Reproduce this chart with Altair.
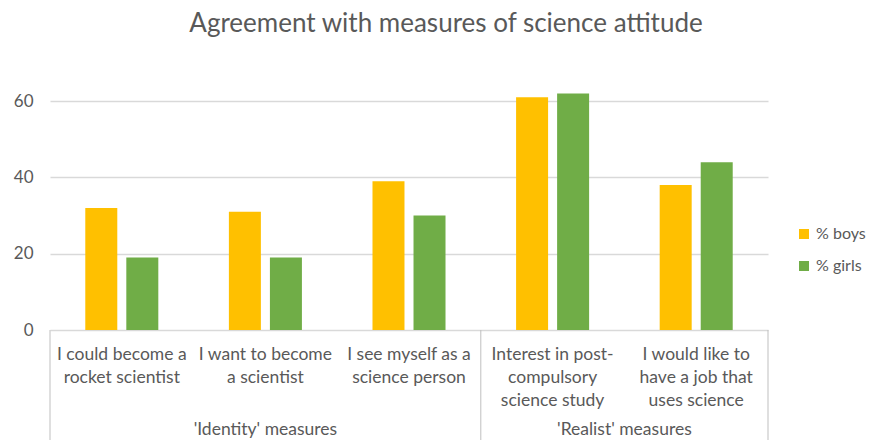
import altair as alt
import pandas as pd

# ---- data ----
categories = [
    "I could become a|rocket scientist",
    "I want to become|a scientist",
    "I see myself as a|science person",
    "Interest in post-|compulsory|science study",
    "I would like to|have a job that|uses science",
]
groups = ["'Identity' measures", "'Identity' measures", "'Identity' measures",
          "'Realist' measures", "'Realist' measures"]
series = ["% boys", "% girls"]
boys = [32, 31, 39, 61, 38]
girls = [19, 19, 30, 62, 44]
y_ticks = [0, 20, 40, 60]
colors = ["#FFC000", "#70AD47"]

rows = []
for c, g, b, gi in zip(categories, groups, boys, girls):
    rows.append({"category": c, "group": g, "series": series[0], "value": b})
    rows.append({"category": c, "group": g, "series": series[1], "value": gi})
df = pd.DataFrame(rows)

# group structure -> separators and group-label anchors
group_names = list(dict.fromkeys(groups))
left_edges, right_edges, mid_half, mid_edge = [], [], [], []
for gname in group_names:
    members = [c for c, g in zip(categories, groups) if g == gname]
    left_edges.append(members[0])
    n = len(members)
    if n % 2 == 1:
        mid_half.append({"category": members[n // 2], "group": gname})
    else:
        mid_edge.append({"category": members[n // 2], "group": gname})
right_edges.append(categories[-1])

W, H = 718, 267
PB = 110
FONT = "Lato"
GREY = "#595959"
LABEL_SIZE = 17.5


def xenc(band=None):
    kw = {} if band is None else {"bandPosition": band}
    return alt.X(
        "category:N",
        sort=categories,
        scale=alt.Scale(paddingInner=0, paddingOuter=0),
        axis=alt.Axis(
            title=None, labelExpr="split(datum.label, '|')", labelAngle=0,
            labelFontSize=LABEL_SIZE, labelColor=GREY, labelFont=FONT,
            labelLineHeight=23, labelPadding=15, labelBaseline="top",
            ticks=False, tickSize=0, domain=False, grid=False,
        ),
        **kw,
    )


bars = alt.Chart(df).mark_bar().encode(
    x=xenc(),
    xOffset=alt.XOffset("series:N", sort=series,
                        scale=alt.Scale(paddingInner=0.22, paddingOuter=0.86)),
    y=alt.Y(
        "value:Q",
        scale=alt.Scale(domain=[0, 70], nice=False),
        axis=alt.Axis(
            title=None, values=y_ticks, grid=True, gridColor="#D9D9D9",
            gridWidth=1.5, domain=False, ticks=False, labelFontSize=17,
            labelColor=GREY, labelFont=FONT, labelPadding=17,
        ),
    ),
    color=alt.Color(
        "series:N", sort=series,
        scale=alt.Scale(domain=series, range=colors),
        legend=alt.Legend(
            title=None, orient="none", legendX=746, legendY=163,
            symbolType="square", symbolSize=100, symbolStrokeWidth=0,
            labelFontSize=16, labelColor=GREY, labelFont=FONT,
            rowPadding=16, labelOffset=4,
        ),
    ),
)

sep_left = alt.Chart(pd.DataFrame({"category": left_edges})).mark_rule(
    color="#BFBFBF", strokeWidth=1
).encode(x=xenc(0), y=alt.value(H), y2=alt.value(H + PB))

sep_right = alt.Chart(pd.DataFrame({"category": right_edges})).mark_rule(
    color="#BFBFBF", strokeWidth=1
).encode(x=xenc(1), y=alt.value(H), y2=alt.value(H + PB))

layers = [bars, sep_left, sep_right]
if mid_half:
    layers.append(
        alt.Chart(pd.DataFrame(mid_half)).mark_text(
            font=FONT, fontSize=LABEL_SIZE, color=GREY, baseline="alphabetic"
        ).encode(x=xenc(0.5), y=alt.value(H + 105), text="group:N")
    )
if mid_edge:
    layers.append(
        alt.Chart(pd.DataFrame(mid_edge)).mark_text(
            font=FONT, fontSize=LABEL_SIZE, color=GREY, baseline="alphabetic"
        ).encode(x=xenc(0), y=alt.value(H + 105), text="group:N")
    )

chart = alt.layer(*layers).properties(
    width=W,
    height=H,
    autosize="none",
    padding={"left": 42, "top": 55, "right": 100, "bottom": PB},
    title=alt.Title(
        "Agreement with measures of science attitude",
        fontSize=26, font=FONT, color=GREY, fontWeight="normal",
        anchor="middle", dx=37, offset=26,
    ),
).configure_view(stroke=None)

chart.save("out.html", embed_options={"renderer": "svg", "actions": False})
